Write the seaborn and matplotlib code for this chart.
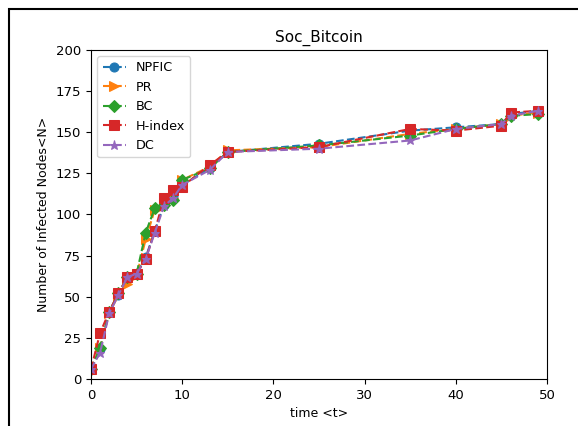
import matplotlib
matplotlib.use("Agg")
import matplotlib.pyplot as plt
import seaborn as sns
from matplotlib.patches import Rectangle

x = [0, 1, 2, 3, 4, 5, 6, 7, 8, 9, 10, 13, 15, 25, 35, 40, 45, 46, 49]
npfic = [6, 18, 41, 51, 61, 64, 74, 90, 106, 111, 118, 128, 138, 143, 151, 153, 155, 161, 163]
pr = [6, 19, 40, 51, 58, 63, 85, 103, 107, 110, 121, 129, 139, 141, 149, 152, 155, 160, 162]
bc = [6, 19, 41, 52, 62, 64, 89, 104, 106, 109, 121, 128, 138, 142, 148, 152, 155, 160, 161]
hindex = [6, 28, 41, 52, 62, 64, 73, 90, 110, 115, 117, 130, 138, 141, 152, 151, 154, 162, 163]
dc = [6, 16, 40, 51, 62, 64, 73, 89, 105, 110, 118, 127, 138, 140, 145, 152, 155, 160, 163]

series = [("NPFIC", npfic, "o", "#1f77b4"),
          ("PR", pr, ">", "#ff7f0e"),
          ("BC", bc, "D", "#2ca02c"),
          ("H-index", hindex, "s", "#d62728"),
          ("DC", dc, "*", "#9467bd")]

fig = plt.figure(figsize=(5.78, 4.26), dpi=100)
ax = fig.add_axes([91/578, 1 - 379/426, (547-91)/578, (379-50)/426])
for name, ys, m, c in series:
    sns.lineplot(x=x, y=ys, ax=ax, marker=m, linestyle="--", color=c, label=name,
                 markersize=6.5, markeredgecolor=c, linewidth=1.5)

ax.set_xlim(0, 50)
ax.set_ylim(0, 200)
ax.set_title("Soc_Bitcoin", fontsize=11)
ax.set_xlabel("time <t>", fontsize=9)
ax.set_ylabel("Number of Infected Nodes<N>", fontsize=9)
ax.tick_params(labelsize=9.5)
ax.legend(loc="upper left", fontsize=9.2, handlelength=1.8)

fig.patches.append(Rectangle((9/578, -0.05), 1.2, 1 - 9/426 + 0.05, transform=fig.transFigure,
                             fill=False, edgecolor="black", linewidth=1.5))
fig.savefig("out.png", dpi=100)
